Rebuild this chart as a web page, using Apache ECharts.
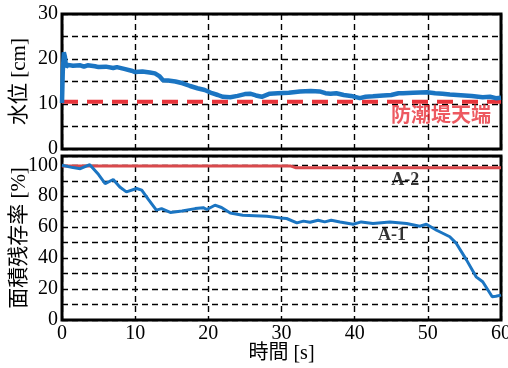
<!DOCTYPE html>
<html><head><meta charset="utf-8">
<script src="https://cdn.jsdelivr.net/npm/echarts@6/dist/echarts.min.js"></script>
<style>html,body{margin:0;padding:0;background:#fff}#c{width:508px;height:368px}</style>
</head><body><div id="c"></div>
<script>
// Water level (top panel)
const levelTime = [0,0.1,0.25,0.4,0.55,0.8,1.5,2.5,3,3.5,4.5,5,6,7,7.5,8.5,9.5,10,11,12,12.7,13.3,13.8,14.5,15.5,16.5,17.5,18.5,19.5,20.5,21.3,22,23,24,25,25.7,26.5,27.3,28.4,29.5,31,32.5,34,35.2,36,36.7,37.5,38.5,39.5,40.7,41.5,42.5,43.9,45,46,46.6,48,49.9,51,52,53,54,55,56,57.5,58.5,59.3,60];
const levelValue = [10.2,17,21.5,20.5,18.2,18.7,18.5,18.6,18.3,18.6,18.4,18.2,18.3,18,18.2,17.8,17.4,17.1,17.2,17,16.8,16.2,15.3,15.2,15,14.6,14,13.5,13.1,12.4,12,11.6,11.5,11.8,12.2,12.3,11.9,11.6,12.3,12.4,12.5,12.8,12.9,12.8,12.4,12.3,12.4,12,11.8,11.3,11.6,11.7,11.9,12,12.4,12.4,12.5,12.6,12.4,12.3,12.1,12,11.9,11.8,11.5,11.6,11.3,11.4];
const seawallLevel = 10.5;
const seawallLabel = '防潮堤天端';

// Area remaining ratio (bottom panel)
const a1Time = [0,1.5,2.5,3.8,5,5.9,7,7.9,8.8,10.2,10.9,11.8,12.9,13.6,14.8,16.4,18.2,19.3,19.8,20.9,21.8,23,24.7,28,29.8,30.7,32.1,33,33.9,35,35.9,36.8,38,39.8,40.9,42.5,44.8,47.1,48.9,49.8,51.2,53,53.9,55.3,56.6,57.5,58.8,59.3,60];
const a1Value = [100,98.5,97.8,100.4,94,88.2,90.8,86,82.8,85,83.9,78,71,72,69.5,70.5,72,72.6,71.4,74.2,72.7,69.2,67.7,67.1,66,65.6,62.8,63.9,63.2,64.5,63.4,64.5,63.4,61.9,63.4,62.4,63.4,62.4,60.6,61.9,58,53.8,49.5,38.7,27.9,24.7,15,15.3,16.1];
const a2Time = [0,31.2,32,60];
const a2Value = [99.6,99.6,98.4,98.4];
const seriesLabels = ['A-1','A-2'];

const xTicks = [0,10,20,30,40,50,60];
const levelTicks = [0,10,20,30];
const ratioTicks = [0,20,40,60,80,100];

const zip = (a,b)=>a.map((v,i)=>[v,b[i]]);
const serif = 'Liberation Serif, Noto Sans CJK JP, serif';
const grid = {color:'#000', type:[6,4], width:1.4};

const chart = echarts.init(document.getElementById('c'));
chart.setOption({
  animation:false,
  textStyle:{fontFamily:serif},
  grid:[
    {left:62,right:7,top:14,height:135,show:true,borderColor:'#000',borderWidth:3,backgroundColor:'transparent',outerBoundsMode:'none',containLabel:false},
    {left:62,right:7,top:156,height:164,show:true,borderColor:'#000',borderWidth:3,backgroundColor:'transparent',outerBoundsMode:'none',containLabel:false}
  ],
  xAxis:[
    {type:'value',gridIndex:0,min:0,max:60,interval:10,axisLine:{show:false},axisTick:{show:false},axisLabel:{show:false},splitLine:{show:true,lineStyle:grid}},
    {type:'value',gridIndex:1,min:0,max:60,interval:10,axisLine:{show:false},axisTick:{show:false},
     axisLabel:{color:'#000',fontSize:20,fontFamily:serif,margin:4,formatter:v=>xTicks.includes(v)?String(v):''},
     splitLine:{show:true,lineStyle:grid},
     name:'時間 [s]',nameLocation:'middle',nameGap:24,nameMoveOverlap:false,nameTextStyle:{color:'#000',fontSize:20,fontFamily:serif}}
  ],
  yAxis:[
    {type:'value',gridIndex:0,min:0,max:30,interval:5,axisLine:{show:false},axisTick:{show:false},
     axisLabel:{color:'#000',fontSize:20,fontFamily:serif,margin:4,formatter:v=>levelTicks.includes(v)?String(v):''},
     splitLine:{show:true,lineStyle:grid},
     name:'水位 [cm]',nameLocation:'middle',nameGap:32,nameMoveOverlap:false,nameTextStyle:{color:'#000',fontSize:21,fontFamily:serif}},
    {type:'value',gridIndex:1,min:0,max:106,interval:10,axisLine:{show:false},axisTick:{show:false},
     axisLabel:{color:'#000',fontSize:20,fontFamily:serif,margin:4,formatter:v=>ratioTicks.includes(v)?String(v):''},
     splitLine:{show:true,lineStyle:grid},
     name:'面積残存率 [%]',nameLocation:'middle',nameGap:32,nameMoveOverlap:false,nameTextStyle:{color:'#000',fontSize:21,fontFamily:serif}}
  ],
  series:[
    {type:'line',xAxisIndex:0,yAxisIndex:0,data:[[0,seawallLevel],[60,seawallLevel]],symbol:'none',
     lineStyle:{color:'#e8343b',width:4,type:[16,9]},z:3},
    {type:'line',xAxisIndex:0,yAxisIndex:0,data:zip(levelTime,levelValue),symbol:'none',
     lineStyle:{color:'#1b75c2',width:4.5},z:4},
    {type:'scatter',xAxisIndex:0,yAxisIndex:0,data:[[51.8,7.6]],symbolSize:0,silent:true,
     label:{show:true,position:'inside',formatter:seawallLabel,color:'#e82f38',fontSize:20,fontWeight:'bold',fontFamily:'Noto Sans CJK JP, sans-serif'},z:5},
    {type:'line',xAxisIndex:1,yAxisIndex:1,data:zip(a2Time,a2Value),symbol:'none',
     lineStyle:{color:'#d9494c',width:3},z:3},
    {type:'line',xAxisIndex:1,yAxisIndex:1,data:zip(a1Time,a1Value),symbol:'none',
     lineStyle:{color:'#1b75c2',width:3},z:4},
    {type:'scatter',xAxisIndex:1,yAxisIndex:1,data:[[45.1,54.8,seriesLabels[0]],[46.9,90.3,seriesLabels[1]]],symbolSize:0,silent:true,
     label:{show:true,position:'inside',formatter:p=>p.data[2],color:'#000',fontSize:18,fontWeight:'bold',fontFamily:serif},z:5}
  ]
});
</script></body></html>
